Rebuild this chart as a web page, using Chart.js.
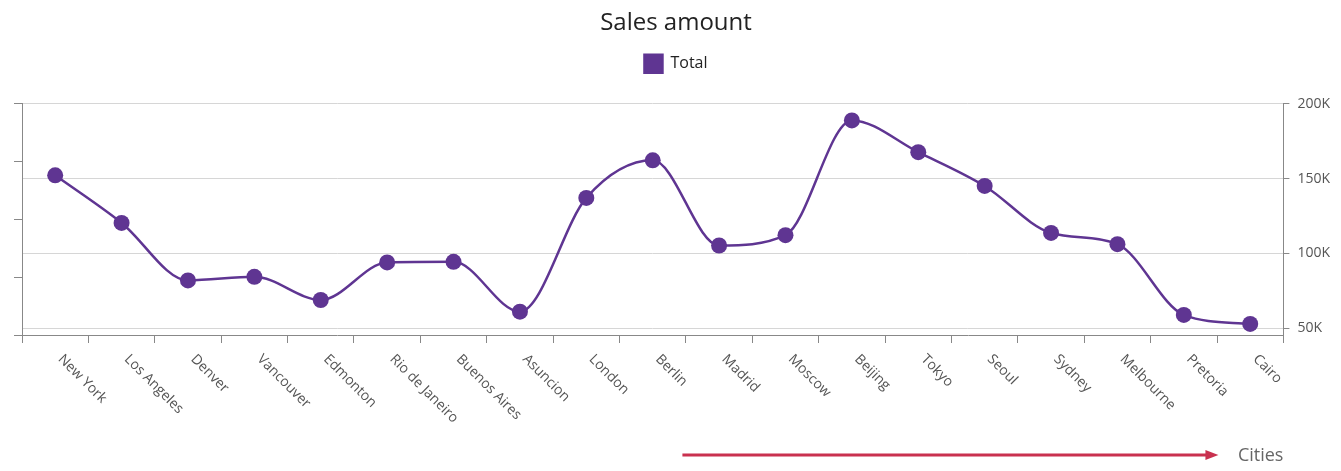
<!DOCTYPE html>
<html>
<head>
<meta charset="utf-8">
<title>Sales amount</title>
<script src="https://cdn.jsdelivr.net/npm/chart.js@4.4.1/dist/chart.umd.min.js"></script>
<style>
  html, body { margin: 0; padding: 0; background: #fff; }
  .wrap { width: 1341px; height: 471px; position: relative; }
</style>
</head>
<body>
<div class="wrap"><canvas id="salesChart"></canvas></div>
<script>
// DATA
const cities = ["New York","Los Angeles","Denver","Vancouver","Edmonton","Rio de Janeiro","Buenos Aires",
  "Asuncion","London","Berlin","Madrid","Moscow","Beijing","Tokyo","Seoul","Sydney","Melbourne","Pretoria","Cairo"];
const totals = [152200,120400,82000,84400,68900,94000,94400,61100,137100,162200,105300,112200,188900,167700,145100,113700,106200,58900,52900];
const yTickValues = [50000,100000,150000,200000];
const leftTickValues = [0,1,2,3,4];

const FONT = '"Segoe UI", "Open Sans", sans-serif';
const PURPLE = "#5f3592";
Chart.defaults.font.family = FONT;

// extra room under the legend
const legendGap = {
  id: "legendGap",
  beforeInit(chart) {
    const fit = chart.legend.fit;
    chart.legend.fit = function () {
      fit.call(this);
      this.height += 21;
    };
  }
};

// slanted city names (text runs down to the right)
const slantedLabels = {
  id: "slantedLabels",
  afterDraw(chart) {
    const {ctx, scales: {x}} = chart;
    ctx.save();
    ctx.font = "14px " + FONT;
    ctx.fillStyle = "#555";
    ctx.textAlign = "left";
    ctx.textBaseline = "middle";
    cities.forEach((c, i) => {
      ctx.save();
      ctx.translate(x.getPixelForValue(i) + 5, x.top + 22);
      ctx.rotate(Math.PI / 4);
      ctx.fillText(c, 0, 0);
      ctx.restore();
    });
    ctx.restore();
  }
};

// red arrow in front of the axis title
const axisArrow = {
  id: "axisArrow",
  afterDraw(chart) {
    const {ctx, scales: {x}} = chart;
    const y = x.bottom - 16;
    const x0 = x.right - 601;
    const x1 = x.right - 65;
    ctx.save();
    ctx.strokeStyle = "#c9314f";
    ctx.fillStyle = "#c9314f";
    ctx.lineWidth = 3;
    ctx.beginPath();
    ctx.moveTo(x0, y);
    ctx.lineTo(x1 - 10, y);
    ctx.stroke();
    ctx.beginPath();
    ctx.moveTo(x1, y);
    ctx.lineTo(x1 - 13, y - 5);
    ctx.lineTo(x1 - 13, y + 5);
    ctx.closePath();
    ctx.fill();
    ctx.restore();
  }
};

let ctx = document.getElementById("salesChart");

let chart = new Chart(ctx, {
  type: "line",
  data: {
    labels: cities,
    datasets: [{
      label: "Total",
      data: totals,
      borderColor: PURPLE,
      backgroundColor: PURPLE,
      borderWidth: 2.5,
      pointRadius: 8,
      pointBackgroundColor: PURPLE,
      pointBorderColor: PURPLE,
      pointBorderWidth: 0,
      cubicInterpolationMode: "monotone",
      yAxisID: "y"
    }]
  },
  options: {
    responsive: true,
    maintainAspectRatio: false,
    animation: false,
    layout: { padding: { left: 14, right: 3, top: 0, bottom: 0 } },
    plugins: {
      title: {
        display: true,
        text: "Sales amount",
        color: "#222",
        font: { size: 24, weight: "normal" },
        padding: { top: 9, bottom: 7 }
      },
      legend: {
        labels: {
          boxWidth: 18,
          boxHeight: 18,
          color: "#222",
          font: { size: 16 },
          padding: 10
        }
      },
      tooltip: { enabled: false }
    },
    scales: {
      x: {
        offset: true,
        grid: { offset: true, drawOnChartArea: false, tickLength: 8, tickColor: "#888", color: "#888" },
        border: { color: "#888" },
        ticks: { display: false },
        title: {
          display: true,
          text: "Cities",
          align: "end",
          color: "#666",
          font: { size: 18 },
          padding: { top: 4, bottom: 4 }
        },
        afterFit: s => { s.height = 136; }
      },
      y: {
        position: "right",
        min: 45500,
        max: 200000,
        afterBuildTicks: s => { s.ticks = yTickValues.map(v => ({ value: v })); },
        ticks: {
          color: "#555",
          font: { size: 14 },
          padding: 8,
          callback: v => (v / 1000) + "K"
        },
        grid: { color: "#d6d6d6", tickLength: 6, tickColor: "#888" },
        border: { color: "#888" }
      },
      yLeft: {
        position: "left",
        min: 0,
        max: 4,
        afterBuildTicks: s => { s.ticks = leftTickValues.map(v => ({ value: v })); },
        ticks: { display: false },
        grid: { drawOnChartArea: false, tickLength: 8, tickColor: "#888" },
        border: { color: "#888" }
      }
    }
  },
  plugins: [legendGap, slantedLabels, axisArrow]
});
</script>
</body>
</html>
